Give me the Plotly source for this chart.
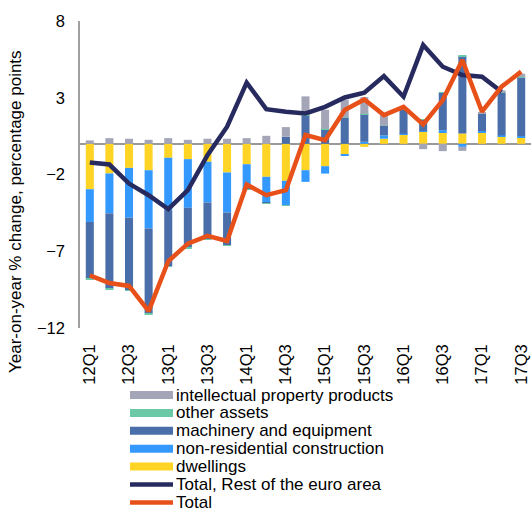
import plotly.graph_objects as go

quarters = ["12Q1", "12Q2", "12Q3", "12Q4", "13Q1", "13Q2", "13Q3", "13Q4",
            "14Q1", "14Q2", "14Q3", "14Q4", "15Q1", "15Q2", "15Q3", "15Q4",
            "16Q1", "16Q2", "16Q3", "16Q4", "17Q1", "17Q2", "17Q3"]
tick_quarters = ["12Q1", "12Q3", "13Q1", "13Q3", "14Q1", "14Q3", "15Q1", "15Q3",
                 "16Q1", "16Q3", "17Q1", "17Q3"]

dwellings = [-2.96, -1.93, -1.57, -1.72, -0.91, -1.00, -1.17, -1.87, -1.33, -2.15, -2.41, -1.72,
             -1.46, -0.67, -0.20, 0.33, 0.61, 0.78, 0.76, 0.67, 0.72, 0.46, 0.43]
non_residential = [-2.13, -2.60, -3.24, -3.80, -3.41, -3.17, -2.65, -2.61, -1.59, -1.67, -1.59, -0.76,
                   -0.48, -0.07, 0.13, 0.22, 0.05, 0.05, 0.13, -0.20, 0.11, 0.09, 0.07]
machinery = [-3.70, -4.90, -4.74, -5.54, -3.65, -2.59, -2.41, -2.13, -0.05, -0.05, 0.46, 1.87,
             0.96, 1.70, 1.80, 0.61, 1.59, 0.76, 2.43, 5.04, 1.15, 2.78, 3.83]
other_assets = [-0.03, -0.03, -0.03, -0.03, -0.03, -0.03, -0.03, -0.03, -0.02, -0.02, -0.02, 0.02,
                0.02, 0.02, 0.02, 0.02, 0.02, 0.02, 0.02, 0.02, 0.02, 0.02, 0.02]
intellectual = [0.22, 0.37, 0.33, 0.26, 0.37, 0.26, 0.33, 0.33, 0.37, 0.52, 0.63, 1.20,
                1.24, 1.15, 1.09, 0.72, 0.05, -0.35, -0.48, -0.26, 0.02, 0.13, 0.22]

total_rest = [-1.22, -1.35, -2.59, -3.35, -4.26, -3.02, -0.74, 1.11, 3.98, 2.26, 2.09, 1.98,
              2.41, 3.02, 3.33, 4.41, 3.07, 6.43, 5.02, 4.48, 4.37, 3.39, None]
total = [-8.57, -9.07, -9.26, -10.90, -7.65, -6.50, -6.00, -6.33, -2.65, -3.35, -3.02, 0.57,
         0.24, 2.20, 2.89, 1.87, 2.41, 1.26, 2.85, 5.46, 2.09, 3.72, 4.70]

bar_series = [
    ("dwellings", dwellings, "#FFD424"),
    ("non-residential construction", non_residential, "#3399FF"),
    ("machinery and equipment", machinery, "#4A6EA9"),
    ("other assets", other_assets, "#6CC9A8"),
    ("intellectual property products", intellectual, "#A4A6B8"),
]
line_series = [
    ("Total, Rest of the euro area", total_rest, "#262A5E"),
    ("Total", total, "#E8501A"),
]

W, H = 531, 514
ML, MR, MT, MB = 80, 0, 21, 186
PW, PH = W - ML - MR, H - MT - MB


def px_x(px):
    return (px - ML) / PW


def px_y(py):
    return (H - MB - py) / PH


fig = go.Figure()

for name, vals, color in bar_series:
    fig.add_trace(go.Bar(x=quarters, y=vals, name=name, marker_color=color,
                         marker_line_width=0, showlegend=False))

for name, vals, color in line_series:
    fig.add_trace(go.Scatter(x=quarters, y=vals, name=name, mode="lines",
                             line=dict(color=color, width=4.5), showlegend=False))

# hand-drawn legend below the plot (wide swatches, tight rows)
legend_items = [(n, c, 8) for n, v, c in reversed(bar_series)] + \
               [(n, c, 4.5) for n, v, c in line_series]
for i, (name, color, lw) in enumerate(legend_items):
    yc = 395 + i * 17.9
    fig.add_shape(type="line", xref="paper", yref="paper",
                  x0=px_x(130), x1=px_x(173), y0=px_y(yc), y1=px_y(yc),
                  line=dict(color=color, width=lw))
    fig.add_annotation(text=name, xref="paper", yref="paper",
                       x=px_x(175), y=px_y(yc), xanchor="left", yanchor="middle",
                       showarrow=False, borderpad=0,
                       font=dict(size=17, color="black"))

fig.add_annotation(text="Year-on-year % change, percentage points", textangle=-90,
                   xref="paper", yref="paper", x=px_x(15), y=px_y(212),
                   xanchor="center", yanchor="middle", showarrow=False,
                   font=dict(size=17, color="black"))

fig.update_layout(
    width=W, height=H,
    margin=dict(l=ML, r=MR, t=MT, b=MB, autoexpand=False),
    barmode="relative", bargap=0.59,
    plot_bgcolor="white", paper_bgcolor="white",
    font=dict(family="Liberation Sans, Arial", size=16.5, color="black"),
    showlegend=False,
    xaxis=dict(type="category", tickvals=tick_quarters, ticktext=tick_quarters,
               tickangle=-90, showgrid=False, showline=False, ticks="",
               zeroline=False, ticklabelstandoff=12),
    yaxis=dict(range=[-12, 8], tick0=-12, dtick=5, showgrid=False,
               showline=True, linecolor="#A0A0A0", linewidth=1.5, ticks="",
               zeroline=True, zerolinecolor="#999999", zerolinewidth=1.5,
               ticklabelstandoff=10),
)

fig.write_html("out.html", config={"displayModeBar": False},
               post_script="document.body.style.margin='0';")
